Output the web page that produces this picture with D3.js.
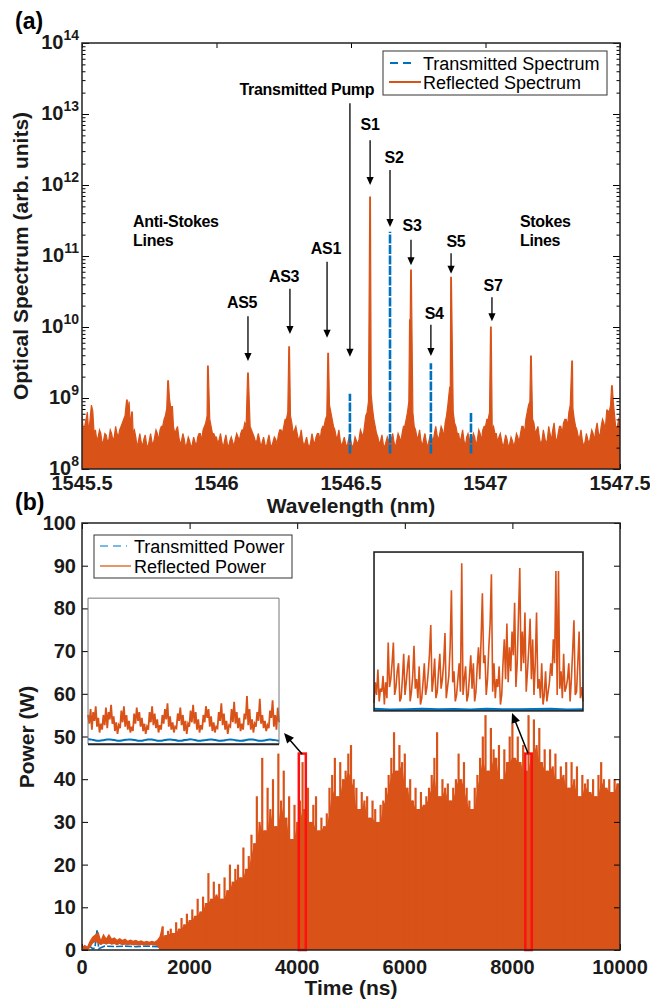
<!DOCTYPE html>
<html><head><meta charset="utf-8">
<script src="https://cdn.jsdelivr.net/npm/d3@7"></script>
<style>body{margin:0;background:#fff}svg{display:block}</style>
</head><body>
<svg id="c" width="650" height="1001"></svg>
<script>
// ================= DATA =================
// Panel (a): optical spectrum
const wlTicks = [1545.5, 1546, 1546.5, 1547, 1547.5];
const yExpTicks = [8, 9, 10, 11, 12, 13, 14];
const floorStart = 1545.5, floorStep = 0.01;
// reflected spectrum noise floor, log10(arb. units), every 0.01 nm
const floorLog = [
8.75,8.6,8.8,8.7,8.82,8.55,8.45,8.5,8.4,8.48,
8.42,8.5,8.45,8.5,8.55,8.65,8.75,8.8,8.6,8.5,
8.45,8.4,8.38,8.42,8.35,8.4,8.38,8.45,8.5,8.55,
8.6,8.75,8.9,8.85,8.6,8.55,8.45,8.4,8.42,8.36,
8.4,8.35,8.38,8.45,8.5,8.55,8.65,8.8,8.6,8.5,
8.45,8.42,8.38,8.4,8.36,8.4,8.38,8.42,8.45,8.5,
8.55,8.6,8.75,8.55,8.45,8.4,8.42,8.38,8.35,8.4,
8.36,8.38,8.42,8.48,8.55,8.6,8.7,8.85,8.65,8.55,
8.5,8.45,8.4,8.38,8.35,8.38,8.4,8.45,8.5,8.55,
8.6,8.75,8.9,8.7,8.55,8.45,8.4,8.38,8.36,8.4,
8.38,8.35,8.4,8.42,8.5,8.6,8.8,9.0,8.85,8.6,
8.45,8.4,8.35,8.38,8.4,8.42,8.38,8.4,8.45,8.5,
8.6,8.8,9.1,8.8,8.55,8.45,8.4,8.42,8.38,8.4,
8.45,8.5,8.48,8.5,8.55,8.65,8.9,9.15,8.8,8.6,
8.5,8.45,8.4,8.45,8.42,8.4,8.45,8.42,8.5,8.55,
8.6,8.7,8.65,8.6,8.5,8.45,8.4,8.38,8.42,8.36,
8.4,8.38,8.45,8.5,8.6,8.7,8.9,8.8,8.65,8.55,
8.45,8.4,8.45,8.42,8.5,8.55,8.45,8.5,8.6,8.65,
8.7,8.8,8.9,8.7,8.55,8.45,8.4,8.38,8.42,8.45,
8.5,8.55,8.5,8.6,8.65,8.7,8.8,8.85,8.75,8.6,
8.65];
// noise floor between the samples above (at +0.005 nm)
const floorMidLog = [
8.55,8.7,8.5,8.9,8.5,8.4,8.55,8.35,8.5,8.38,
8.55,8.4,8.6,8.45,8.6,8.7,8.6,8.95,8.45,8.55,
8.3,8.5,8.32,8.48,8.3,8.5,8.35,8.55,8.4,8.6,
8.7,8.85,9.0,8.7,8.5,8.6,8.35,8.5,8.3,8.45,
8.3,8.45,8.32,8.5,8.4,8.6,8.75,8.7,8.5,8.45,
8.35,8.5,8.3,8.48,8.3,8.45,8.32,8.5,8.4,8.55,
8.65,8.7,8.6,8.5,8.38,8.5,8.3,8.45,8.3,8.48,
8.3,8.45,8.35,8.55,8.5,8.7,8.8,8.75,8.5,8.6,
8.4,8.55,8.32,8.45,8.3,8.5,8.35,8.5,8.4,8.6,
8.7,8.85,8.8,8.6,8.45,8.55,8.32,8.45,8.3,8.48,
8.3,8.45,8.35,8.55,8.45,8.75,8.95,9.05,8.7,8.5,
8.35,8.48,8.3,8.45,8.32,8.5,8.3,8.5,8.38,8.6,
8.7,8.95,9.0,8.6,8.45,8.55,8.32,8.5,8.3,8.48,
8.38,8.6,8.4,8.6,8.45,8.75,9.0,9.05,8.65,8.5,
8.38,8.55,8.32,8.5,8.35,8.5,8.32,8.55,8.4,8.6,
8.7,8.8,8.55,8.5,8.38,8.5,8.3,8.48,8.3,8.45,
8.32,8.5,8.38,8.6,8.5,8.8,8.95,8.7,8.5,8.6,
8.35,8.55,8.35,8.6,8.4,8.65,8.38,8.6,8.5,8.7,
8.6,8.9,8.85,8.6,8.45,8.55,8.32,8.5,8.35,8.55,
8.4,8.65,8.45,8.7,8.55,8.75,8.9,8.95,8.55,8.7];
// reflected spectrum lines (wavelength nm, log10 peak)
const reflPeakWl  = [1545.667,1545.686,1545.820,1545.835,1545.968,1546.117,1546.270,1546.415,1546.571,1546.719,1546.723,1546.868,1546.872,1547.020,1547.169,1547.322,1547.452,1547.470];
const reflPeakLog = [8.97,8.80,9.24,8.88,9.45,9.35,9.72,9.63,11.83,10.10,10.80,9.15,10.70,10.00,9.59,9.52,8.83,9.17];
// transmitted spectrum lines
const transPeakWl  = [1546.496,1546.645,1546.797,1546.946];
const transPeakLog = [9.06,11.34,9.49,8.80];
const transFloorLog = 8.33;
// annotations
const annoText   = ["Transmitted Pump","S1","S2","S3","S4","S5","S7","AS1","AS3","AS5"];
const annoArrowWl= [1546.496,1546.571,1546.645,1546.723,1546.797,1546.872,1547.024,1546.411,1546.273,1546.117];
const annoTail   = [13.15,12.63,12.21,11.23,10.03,11.04,10.42,10.92,10.54,10.15];
const annoTip    = [9.58,12.00,11.41,10.87,9.59,10.75,10.08,9.85,9.90,9.52];
const annoLabelWl= [1546.336,1546.571,1546.660,1546.727,1546.809,1546.890,1547.028,1546.407,1546.251,1546.095];
const annoLabelLog=[13.27,12.77,12.31,11.35,10.11,11.13,10.51,11.03,10.63,10.27];
const groupText  = [["Anti-Stokes","Lines"],["Stokes","Lines"]];
const groupWl    = [1545.690,1547.128];
const groupLog   = [11.41,11.41];

// Panel (b): time domain power
const timeTicks = [0,2000,4000,6000,8000,10000];
const powerTicks = [0,10,20,30,40,50,60,70,80,90,100];
const reflStep = 50; // ns between samples
const reflHi = [
0.5,1,0.5,2,3,3.5,4,2,3.5,2.5,
3.5,2.5,2.8,2.2,2.6,2.2,2.5,2,2.3,2,
2.2,1.9,2.1,1.8,2,1.8,2,1.8,2.2,3,
5.5,3.5,4.5,5,4,6.5,5,7.5,6,8.5,
7,9.5,8,12,9,12.5,11,18,12,16,
13,15.5,12,17,14,20,16,19,20,17,
24,19,22,27,25,36,30,45,28,38,
33,40,29,46,35,42,31,36,26,34,
30,35,44,33,38,30,34,36,28,31,
29,32,38,41,45,36,44,40,42,46,
48,40,38,33,37,35,36,31,35,33,
30,34,35,38,41,45,51,42,48,44,
46,38,40,35,38,33,37,34,36,38,
41,45,51,36,40,38,39,35,38,40,
46,40,44,38,35,33,38,41,45,50,
55,42,52,47,45,48,40,47,44,50,
53,45,50,44,48,42,55,46,54,48,
52,44,47,42,47,43,46,40,43,41,
44,38,44,40,43,36,41,39,40,37,
40,36,41,44,40,38,40,37,40,39,
40];
const reflLo = [0,0,0,0.5,1.5,2,1.5,1.2,1.5,1.3,1.5,1.3,1.4,1.2,1.4,1.2,1.3,1.2,1.3,1.1,1.2,1.1,1.2,1.1,1.2,1.1,1.2,1.1,1.0,0];
const transT = [0,40,60,150,200,240,280,310,360,420,600,800,1000,1200,1400,1450,1500,1600,1900,2000,2100,2200,2300,10000];
const transW = [0,0,0.8,0.8,0.3,0.5,4.8,0.3,0.6,0.9,0.8,0.9,0.8,0.9,0.8,0.7,0.2,0,0,0.6,0.8,0.3,0,0];
// zoom windows (t0, t1, W0, W1)
const redBoxes = [[4030,4160,0,46],[8240,8360,0,46]];
const insetBoxes = [[112,3662,48.2,82.4],[5428,9312,56,93.2]];
const zoomArrows = [[4090,45.9,3755,50.8],[8290,46.1,7993,55.5]];
// inset traces (relative units 0..100 of inset height)
const leftInsetRefl = [20,14,24,10,22,16,26,12,18,8,14,10,20,13,25,11,22,17,27,14,19,9,15,7,13,11,23,15,26,12,20,10,16,8,12,9,21,14,25,16,22,12,18,9,14,7,12,10,22,15,26,13,21,11,17,8,13,10,20,14,24,17,28,12,19,10,15,8,12,11,21,16,25,13,20,9,16,7,14,12,23,15,27,14,22,10,17,8,13,10,20,15,26,18,24,12,19,9,15,8,12,11,22,16,28,13,21,10,16,7,13,12,24,15,29,14,22,11,18,9,14,10,21,17,33,13,24,10,17,8,14,12,22,16,31,14,20,11,16,9,13,11,23,18,30,12,20,10,25,15];
const leftInsetTrans = [3.5,3.2,2.5,2.2,2.6,3.2,3.4,2.8,2.3,2.4,3.0,3.4,3.1,2.5,2.2,2.7,3.3,3.3,2.7,2.2,2.5,3.1,3.4,2.9,2.3,2.3,2.9,3.4,3.2,2.5,2.2,2.6,3.2,3.3,2.8,2.3,2.4,3.0,3.3,3.0,2.4,2.2,2.7,3.2,3.3,2.7,2.2,2.5,3.1,3.2,2.8,2.3];
const rightInsetRefl = [5,18,10,26,6,14,12,22,4,18,8,43,15,20,30,43,10,15,25,30,6,8,20,36,10,18,28,35,6,12,22,41,14,20,8,28,4,8,18,30,10,15,24,36,54,12,20,33,8,12,25,36,14,20,30,49,8,15,22,40,76,18,25,6,10,20,30,12,93,10,20,28,6,10,22,35,14,30,6,12,28,40,20,45,74,30,35,10,20,40,55,86,12,30,8,20,15,28,4,10,30,45,20,55,18,40,25,50,35,68,15,30,60,90,25,50,30,62,12,25,40,58,20,45,10,30,62,14,20,8,30,4,10,25,6,12,18,30,22,45,30,88,10,88,14,25,8,36,12,15,20,30,6,20,38,57,10,12,30,50,8,15,6];
const rightInsetTrans = [1.2,0.8,1.0,1.3,0.9,1.1,0.8,1.2,1.0,0.9,1.1,1.2,0.8,1.0];

// ================= DRAW =================
const ORANGE = "#D95319", BLUE = "#0072BD";
const FONT = "'Liberation Sans', Arial, Helvetica, sans-serif";
const svg = d3.select("#c").attr("font-family", FONT);
const defs = svg.append("defs");

function styleAxis(g){ g.select(".domain").remove(); g.selectAll("line").attr("stroke","#000").attr("stroke-width",1); }
function arrowHead(g, x, y, angle, len, half){
  const bx = x - len*Math.cos(angle), by = y - len*Math.sin(angle);
  const px = -Math.sin(angle)*half, py = Math.cos(angle)*half;
  g.append("path").attr("d",`M${x},${y}L${bx+px},${by+py}L${bx-px},${by-py}Z`).attr("fill","#000");
}

// ---------- Panel (a)
const xA = d3.scaleLinear().domain([1545.5, 1547.5]).range([82, 620]);
const yA = d3.scaleLog().domain([1e8, 1e14]).range([469, 43]);
defs.append("clipPath").attr("id","clipA").append("rect").attr("x",82).attr("y",43).attr("width",538).attr("height",426);
const gA = svg.append("g");

const majors = yExpTicks.map(e => Math.pow(10, e));
const minors = yA.ticks().filter(v => !majors.some(m => Math.abs(m - v) / m < 1e-6));
gA.append("g").attr("transform","translate(82,0)").call(d3.axisLeft(yA).tickValues(minors).tickSize(-3.5).tickFormat("")).call(styleAxis);
gA.append("g").attr("transform","translate(82,0)").call(d3.axisLeft(yA).tickValues(majors).tickSize(-7).tickFormat("")).call(styleAxis);
gA.append("g").attr("transform","translate(0,43)").call(d3.axisTop(xA).tickValues(wlTicks).tickSize(-5).tickFormat("")).call(styleAxis);
gA.append("g").attr("transform","translate(0,469)").call(d3.axisBottom(xA).tickValues(wlTicks).tickSize(-5).tickFormat("")).call(styleAxis);

// y tick labels 10^n
const yl = gA.append("g").selectAll("text").data(yExpTicks).join("text")
  .attr("x", 79).attr("y", d => yA(Math.pow(10,d)) + 6).attr("text-anchor","end")
  .attr("font-size", 20).attr("font-weight","bold").attr("fill","#1a1a1a");
yl.append("tspan").text("10");
yl.append("tspan").attr("dy",-9).attr("font-size",14).text(d => d);
// x tick labels
gA.append("g").selectAll("text").data(wlTicks).join("text")
  .attr("x", d => xA(d)).attr("y", 490).attr("text-anchor","middle")
  .attr("font-size",20).attr("font-weight","bold").attr("fill","#1a1a1a").text(d => d);

// reflected spectrum
const nearPeak = w => reflPeakWl.some(p => Math.abs(p - w) < 0.003);
let spec = floorLog.map((L,i) => [floorStart + floorStep*i, L])
  .concat(floorMidLog.map((L,i) => [floorStart + floorStep*(i+0.5), L]))
  .filter(p => !nearPeak(p[0]));
reflPeakWl.forEach((w,i) => { spec.push([w-0.0012, reflPeakLog[i]]); spec.push([w+0.0012, reflPeakLog[i]]); });
spec.sort((a,b) => a[0]-b[0]);
const gSpec = gA.append("g").attr("clip-path","url(#clipA)");
gSpec.append("path").datum(spec)
  .attr("d", d3.area().x(d => xA(d[0])).y0(469).y1(d => yA(Math.pow(10,d[1]))))
  .attr("fill", ORANGE);
gSpec.append("path").datum(spec)
  .attr("d", d3.line().x(d => xA(d[0])).y(d => yA(Math.pow(10,d[1]))))
  .attr("fill","none").attr("stroke",ORANGE).attr("stroke-width",1.2);
// transmitted spectrum
gSpec.selectAll("line.tr").data(transPeakWl).join("line").attr("class","tr")
  .attr("x1", d => xA(d)).attr("x2", d => xA(d))
  .attr("y1", yA(Math.pow(10,transFloorLog)) + 8)
  .attr("y2", (d,i) => yA(Math.pow(10,transPeakLog[i])))
  .attr("stroke", BLUE).attr("stroke-width",2.6).attr("stroke-dasharray","9,1.5");

// right-side ticks drawn on top of the data
gA.append("g").attr("transform","translate(620,0)").call(d3.axisRight(yA).tickValues(minors).tickSize(-3.5).tickFormat("")).call(styleAxis);
gA.append("g").attr("transform","translate(620,0)").call(d3.axisRight(yA).tickValues(majors).tickSize(-7).tickFormat("")).call(styleAxis);

// annotations
const gAn = gA.append("g");
annoText.forEach((t,i) => {
  const x = xA(annoArrowWl[i]), y1 = yA(Math.pow(10,annoTail[i])), y2 = yA(Math.pow(10,annoTip[i]));
  gAn.append("line").attr("x1",x).attr("x2",x).attr("y1",y1).attr("y2",y2-7).attr("stroke","#000").attr("stroke-width",1.3);
  arrowHead(gAn, x, y2, Math.PI/2, 8, 3.6);
  gAn.append("text").attr("x", xA(annoLabelWl[i])).attr("y", yA(Math.pow(10,annoLabelLog[i])))
    .attr("text-anchor","middle").attr("font-size",16).attr("font-weight","bold").attr("letter-spacing","-0.3").text(t);
});
groupText.forEach((lines,i) => {
  lines.forEach((t,j) => {
    gAn.append("text").attr("x", xA(groupWl[i])).attr("y", yA(Math.pow(10,groupLog[i])) + j*19)
      .attr("font-size",16).attr("font-weight","bold").attr("letter-spacing","-0.3").text(t);
  });
});

// legend (a)
const lgA = gA.append("g");
lgA.append("rect").attr("x",383).attr("y",51).attr("width",224).attr("height",44).attr("fill","#fff").attr("stroke","#333").attr("stroke-width",1);
lgA.append("line").attr("x1",390).attr("x2",416).attr("y1",63).attr("y2",63).attr("stroke",BLUE).attr("stroke-width",2).attr("stroke-dasharray","8,5");
lgA.append("line").attr("x1",389).attr("x2",421).attr("y1",82).attr("y2",82).attr("stroke",ORANGE).attr("stroke-width",2);
lgA.append("text").attr("x",423).attr("y",69.5).attr("font-size",18).text("Transmitted Spectrum");
lgA.append("text").attr("x",423).attr("y",88.5).attr("font-size",18).text("Reflected Spectrum");

gA.append("rect").attr("x",82).attr("y",43).attr("width",538).attr("height",426).attr("fill","none").attr("stroke","#222").attr("stroke-width",1.5);
gA.append("text").attr("x",351).attr("y",513).attr("text-anchor","middle").attr("font-size",21).attr("font-weight","bold").attr("fill","#1a1a1a").text("Wavelength (nm)");
gA.append("text").attr("transform","translate(28,256) rotate(-90)").attr("text-anchor","middle").attr("font-size",21).attr("font-weight","bold").attr("fill","#1a1a1a").text("Optical Spectrum (arb. units)");
svg.append("text").attr("x",15).attr("y",29).attr("font-size",23).attr("font-weight","bold").text("(a)");

// ---------- Panel (b)
const xB = d3.scaleLinear().domain([0, 10000]).range([82, 620]);
const yB = d3.scaleLinear().domain([0, 100]).range([950, 523]);
defs.append("clipPath").attr("id","clipB").append("rect").attr("x",82).attr("y",523).attr("width",538).attr("height",427);
const gB = svg.append("g");
gB.append("g").attr("transform","translate(82,0)").call(d3.axisLeft(yB).tickValues(powerTicks).tickSize(-6).tickFormat("")).call(styleAxis);
gB.append("g").attr("transform","translate(0,523)").call(d3.axisTop(xB).tickValues(timeTicks).tickSize(-6).tickFormat("")).call(styleAxis);
gB.append("g").attr("transform","translate(0,950)").call(d3.axisBottom(xB).tickValues(timeTicks).tickSize(-6).tickFormat("")).call(styleAxis);
gB.append("g").selectAll("text").data(powerTicks).join("text")
  .attr("x",76).attr("y",d => yB(d) + 7).attr("text-anchor","end")
  .attr("font-size",20).attr("font-weight","bold").attr("fill","#1a1a1a").text(d => d);
gB.append("g").selectAll("text").data(timeTicks).join("text")
  .attr("x",d => xB(d)).attr("y",974).attr("text-anchor","middle")
  .attr("font-size",20).attr("font-weight","bold").attr("fill","#1a1a1a").text(d => d);

const gData = gB.append("g").attr("clip-path","url(#clipB)");
const transPts = transT.map((t,i) => [t, transW[i]]);
gData.append("path").datum(transPts)
  .attr("d", d3.line().x(d => xB(d[0])).y(d => yB(d[1])))
  .attr("fill","none").attr("stroke",BLUE).attr("stroke-width",1.6).attr("stroke-dasharray","7,2");
const reflPts = reflHi.map((v,i) => {
  const lo = i < reflLo.length ? reflLo[i] : 0;
  const base = Math.min(v, reflHi[Math.max(0,i-1)], reflHi[Math.min(reflHi.length-1,i+1)]);
  return [i*reflStep, lo, v, Math.max(lo, base)];
});
// solid body (local-minimum envelope of the pulses)
gData.append("path").datum(reflPts)
  .attr("d", d3.area().x(d => xB(d[0])).y0(d => yB(d[1])).y1(d => yB(d[3])))
  .attr("fill", ORANGE);
// early low-level trace
gData.append("path").datum(reflPts.filter(d => d[0] <= 1500))
  .attr("d", d3.area().x(d => xB(d[0])).y0(d => yB(d[1])).y1(d => yB(d[2])))
  .attr("fill", ORANGE);
gData.append("path").datum(reflPts.filter(d => d[0] <= 1500))
  .attr("d", d3.line().x(d => xB(d[0])).y(d => yB(d[2])))
  .attr("fill","none").attr("stroke",ORANGE).attr("stroke-width",1.4);
// individual pulses
gData.selectAll("line.rs").data(reflPts.filter(d => d[1] === 0 && d[0] > 1400)).join("line").attr("class","rs")
  .attr("x1", d => xB(d[0])).attr("x2", d => xB(d[0]))
  .attr("y1", yB(0)).attr("y2", d => yB(d[2]))
  .attr("stroke", ORANGE).attr("stroke-width", 2.2);

gB.append("g").attr("transform","translate(620,0)").call(d3.axisRight(yB).tickValues(powerTicks).tickSize(-6).tickFormat("")).call(styleAxis);

// red boxes
gB.selectAll("rect.red").data(redBoxes).join("rect").attr("class","red")
  .attr("x", d => xB(d[0])).attr("width", d => xB(d[1]) - xB(d[0]))
  .attr("y", d => yB(d[3])).attr("height", d => yB(d[2]) - yB(d[3]))
  .attr("fill","none").attr("stroke","#FF1010").attr("stroke-width",2.5);

// insets
function drawInset(box, refl, trans, frameStyle){
  const x0 = xB(box[0]), x1 = xB(box[1]), yb = yB(box[2]), yt = yB(box[3]);
  const g = gB.append("g");
  g.append("rect").attr("x",x0).attr("y",yt).attr("width",x1-x0).attr("height",yb-yt).attr("fill","#fff");
  const xr = d3.scaleLinear().domain([0, refl.length-1]).range([x0, x1]);
  const xt = d3.scaleLinear().domain([0, trans.length-1]).range([x0, x1]);
  const yi = d3.scaleLinear().domain([0,100]).range([yb, yt]);
  if (frameStyle === "left") {
    g.append("path").attr("d", d3.line().curve(d3.curveBasis).x((d,i) => xt(i)).y(d => yi(d))(trans))
      .attr("fill","none").attr("stroke",BLUE).attr("stroke-width",2);
    g.append("path").attr("d", d3.line().x((d,i) => xr(i)).y(d => yi(d))(refl))
      .attr("fill","none").attr("stroke",ORANGE).attr("stroke-width",1.8);
    g.append("path").attr("d",`M${x0},${yb}V${yt}H${x1}V${yb}`).attr("fill","none").attr("stroke","#777").attr("stroke-width",1);
    g.append("line").attr("x1",x0).attr("x2",x1).attr("y1",yb).attr("y2",yb).attr("stroke","#222").attr("stroke-width",2);
  } else {
    g.append("path").attr("d", d3.line().x((d,i) => xr(i)).y(d => yi(d))(refl))
      .attr("fill","none").attr("stroke",ORANGE).attr("stroke-width",1.6);
    g.append("path").attr("d", d3.line().x((d,i) => xt(i)).y(d => yi(d))(trans))
      .attr("fill","none").attr("stroke",BLUE).attr("stroke-width",2.2);
    g.append("rect").attr("x",x0).attr("y",yt).attr("width",x1-x0).attr("height",yb-yt).attr("fill","none").attr("stroke","#222").attr("stroke-width",1.6);
  }
}
drawInset(insetBoxes[0], leftInsetRefl, leftInsetTrans, "left");
drawInset(insetBoxes[1], rightInsetRefl, rightInsetTrans, "right");

// zoom arrows
zoomArrows.forEach(a => {
  const x1 = xB(a[0]), y1 = yB(a[1]), x2 = xB(a[2]), y2 = yB(a[3]);
  const ang = Math.atan2(y2 - y1, x2 - x1);
  gB.append("line").attr("x1",x1).attr("y1",y1).attr("x2",x2 - 8*Math.cos(ang)).attr("y2",y2 - 8*Math.sin(ang)).attr("stroke","#000").attr("stroke-width",1.5);
  arrowHead(gB, x2, y2, ang, 10, 4.5);
});

// legend (b)
const lgB = gB.append("g");
lgB.append("rect").attr("x",94).attr("y",535).attr("width",198).attr("height",43).attr("fill","#fff").attr("stroke","#333").attr("stroke-width",1);
lgB.append("line").attr("x1",100).attr("x2",127).attr("y1",546).attr("y2",546).attr("stroke","#4DA3E0").attr("stroke-width",1.6).attr("stroke-dasharray","8,5");
lgB.append("line").attr("x1",100).attr("x2",131).attr("y1",566).attr("y2",566).attr("stroke","#E47A45").attr("stroke-width",1.6);
lgB.append("text").attr("x",134).attr("y",552.5).attr("font-size",18).text("Transmitted Power");
lgB.append("text").attr("x",134).attr("y",572.5).attr("font-size",18).text("Reflected Power");

gB.append("rect").attr("x",82).attr("y",523).attr("width",538).attr("height",427).attr("fill","none").attr("stroke","#222").attr("stroke-width",1.5);
gB.append("text").attr("x",351).attr("y",995).attr("text-anchor","middle").attr("font-size",21).attr("font-weight","bold").attr("fill","#1a1a1a").text("Time (ns)");
gB.append("text").attr("transform","translate(34,737) rotate(-90)").attr("text-anchor","middle").attr("font-size",21).attr("font-weight","bold").attr("fill","#1a1a1a").text("Power (W)");
svg.append("text").attr("x",15).attr("y",510).attr("font-size",23).attr("font-weight","bold").text("(b)");
</script>
</body></html>
